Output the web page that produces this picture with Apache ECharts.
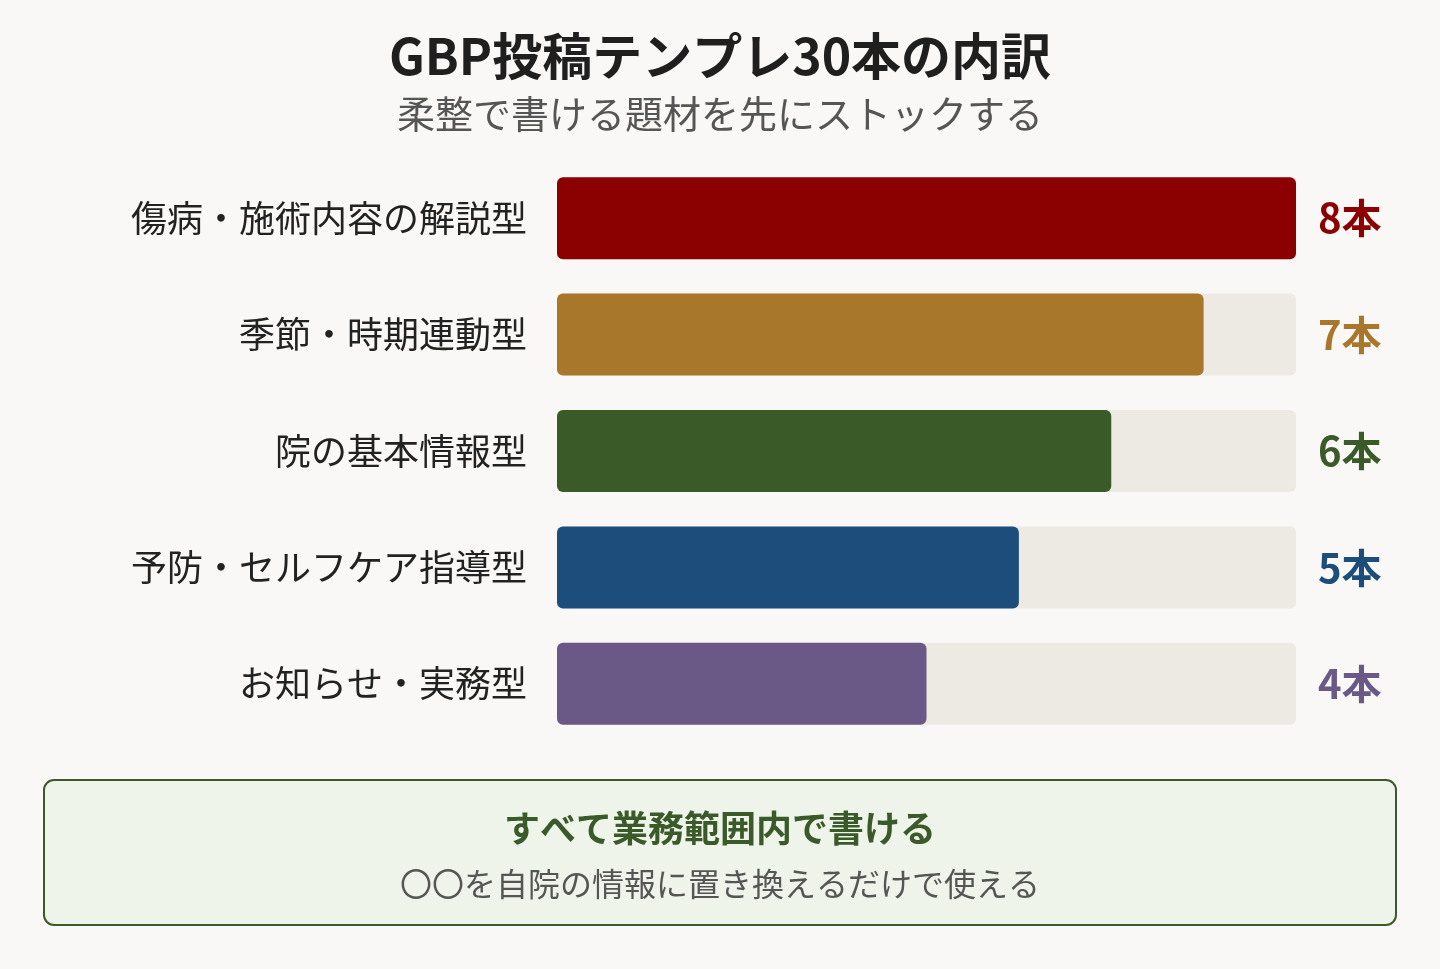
<!DOCTYPE html>
<html><head><meta charset="utf-8">
<script src="https://cdn.jsdelivr.net/npm/echarts@6/dist/echarts.min.js"></script>
<style>html,body{margin:0;padding:0;background:#f9f8f6}#c{width:1440px;height:969px}</style>
</head><body><div id="c"></div>
<script>
const categories = ['傷病・施術内容の解説型','季節・時期連動型','院の基本情報型','予防・セルフケア指導型','お知らせ・実務型'];
const values = [8,7,6,5,4];
const colors = ['#8b0000','#a8772c','#3a5a28','#1d4e7b','#6a5986'];
const maxValue = 8;
const F = '"Noto Sans CJK JP"';
const chart = echarts.init(document.getElementById('c'));
chart.setOption({
  backgroundColor:'#f9f8f6',
  title:{text:'GBP投稿テンプレ30本の内訳',subtext:'柔整で書ける題材を先にストックする',left:'center',top:26,itemGap:14,
    textStyle:{fontFamily:F,fontSize:50,fontWeight:'bold',color:'#1f1f1f'},
    subtextStyle:{fontFamily:F,fontSize:38,color:'#555'}},
  grid:{left:557,right:144,top:160,bottom:227},
  xAxis:{type:'value',min:0,max:maxValue,show:false},
  yAxis:{type:'category',data:categories,inverse:true,axisLine:{show:false},axisTick:{show:false},
    axisLabel:{fontFamily:F,fontSize:36,color:'#222',margin:30}},
  series:[
    {type:'bar',barWidth:82,silent:true,data:categories.map(()=>maxValue),
      itemStyle:{color:'#edeae4',borderRadius:6},
      label:{show:true,position:'right',distance:22,fontFamily:F,fontSize:40,fontWeight:'bold',
        formatter:p=>values[p.dataIndex]+'本'},
      z:1},
    {type:'bar',barWidth:82,barGap:'-100%',data:values.map((v,i)=>({value:v,itemStyle:{color:colors[i]}})),
      itemStyle:{borderRadius:6},z:2}
  ],
  graphic:[
    {type:'rect',shape:{x:44,y:780,width:1352,height:145,r:10},style:{fill:'#eff4ea',stroke:'#3b5a2a',lineWidth:2}},
    {type:'text',x:720,y:828,style:{text:'すべて業務範囲内で書ける',fontFamily:F,fontSize:36,fontWeight:'bold',fill:'#3b5a2a',align:'center',verticalAlign:'middle'}},
    {type:'text',x:720,y:884,style:{text:'〇〇を自院の情報に置き換えるだけで使える',fontFamily:F,fontSize:32,fill:'#555',align:'center',verticalAlign:'middle'}}
  ]
});
const opt = chart.getOption();
opt.series[0].data = categories.map((c,i)=>({value:maxValue,label:{color:colors[i]}}));
chart.setOption({series:opt.series});
</script></body></html>
